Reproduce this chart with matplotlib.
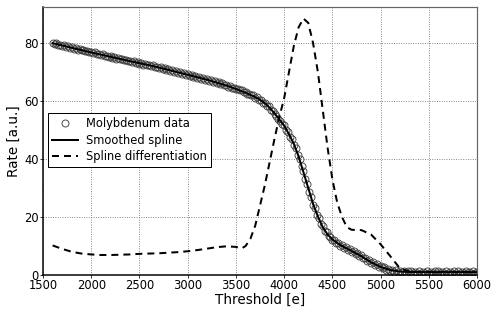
import matplotlib
matplotlib.use("Agg")
import matplotlib.pyplot as plt
import numpy as np

# measured data, one point every 20 e from 1600 to 6000
data_x = np.arange(1600, 6001, 20)
data_rate = [
    80.1, 79.7, 79.9, 79.3, 79.5, 79.0, 79.2, 78.7, 79.0, 78.4,
    78.6, 78.1, 78.3, 77.8, 78.0, 77.5, 77.8, 77.2, 77.4, 76.9,
    77.0, 76.5, 76.8, 76.2, 76.4, 75.9, 76.2, 75.6, 75.7, 75.2,
    75.5, 75.0, 75.2, 74.7, 74.9, 74.5, 74.7, 74.2, 74.3, 73.8,
    74.0, 73.6, 73.8, 73.2, 73.4, 72.9, 73.1, 72.6, 72.8, 72.3,
    72.6, 72.1, 72.3, 71.8, 71.9, 71.4, 71.7, 71.2, 71.3, 70.8,
    71.0, 70.5, 70.7, 70.1, 70.3, 69.8, 70.0, 69.4, 69.6, 69.1,
    69.3, 68.8, 69.0, 68.4, 68.6, 68.1, 68.3, 67.7, 67.9, 67.4,
    67.6, 67.1, 67.2, 66.7, 66.9, 66.3, 66.5, 65.9, 66.1, 65.5,
    65.6, 65.0, 65.2, 64.6, 64.7, 64.1, 64.3, 63.7, 63.8, 63.2,
    63.1, 62.5, 62.6, 62.0, 62.0, 61.2, 61.3, 60.5, 60.3, 59.5,
    59.4, 58.4, 58.2, 57.1, 56.7, 55.6, 55.0, 54.0, 53.2, 52.2,
    51.7, 50.1, 49.5, 47.7, 47.0, 45.0, 43.9, 41.5, 40.2, 37.5,
    35.8, 33.0, 31.4, 28.6, 27.0, 24.2, 23.0, 20.7, 19.7, 17.6,
    16.8, 15.1, 14.7, 13.3, 13.2, 12.0, 12.1, 11.0, 11.2, 10.1,
    10.3, 9.4, 9.6, 8.7, 8.9, 8.0, 8.2, 7.3, 7.5, 6.6,
    6.8, 5.8, 6.0, 5.0, 5.2, 4.1, 4.4, 3.5, 3.7, 2.8,
    3.1, 2.3, 2.7, 1.9, 2.2, 1.4, 1.9, 1.2, 1.7, 1.0,
    1.5, 0.9, 1.4, 0.8, 1.3, 0.7, 1.3, 0.7, 1.2, 0.8,
    1.3, 0.7, 1.2, 0.8, 1.3, 0.7, 1.2, 0.8, 1.3, 0.7,
    1.3, 0.7, 1.2, 0.8, 1.3, 0.7, 1.2, 0.8, 1.3, 0.7,
    1.3, 0.7, 1.2, 0.8, 1.3, 0.7, 1.2, 0.8, 1.3, 0.7,
    1.2,
]

# smoothed spline
spline_x = [1600, 1800, 2000, 2200, 2400, 2600, 2800, 3000, 3200, 3400,
            3500, 3600, 3700, 3750, 3800, 3850, 3900, 3950, 4000, 4050,
            4100, 4150, 4200, 4250, 4300, 4350, 4400, 4450, 4500, 4550,
            4600, 4700, 4800, 4900, 5000, 5100, 5200, 5300, 5400, 6000]
spline_rate = [80.0, 78.4, 76.8, 75.3, 73.8, 72.4, 70.8, 69.1, 67.4, 65.4,
               64.2, 62.9, 61.4, 60.5, 59.3, 57.7, 55.8, 53.7, 51.5, 48.6,
               45.3, 40.9, 35.5, 30.0, 24.5, 20.2, 16.5, 14.0, 12.3, 11.1,
               10.0, 8.3, 6.5, 4.4, 2.8, 1.7, 1.2, 1.05, 1.0, 1.0]

# spline differentiation
diff_x = [1600, 1700, 1800, 1900, 2000, 2100, 2200, 2300, 2400, 2500,
          2600, 2700, 2800, 2900, 3000, 3100, 3200, 3300, 3400, 3500,
          3560, 3600, 3650, 3700, 3750, 3800, 3850, 3900, 3950, 4000,
          4050, 4100, 4150, 4200, 4250, 4300, 4350, 4400, 4450, 4500,
          4550, 4600, 4650, 4700, 4800, 4900, 5000, 5100, 5200, 5300,
          5400, 6000]
diff_rate = [10.2, 9.0, 8.0, 7.4, 7.1, 6.9, 6.9, 7.0, 7.1, 7.3,
             7.4, 7.5, 7.7, 7.9, 8.2, 8.6, 9.1, 9.6, 9.9, 9.7,
             9.2, 10.0, 12.5, 17.0, 24.0, 31.0, 39.0, 47.0, 54.5, 61.0,
             70.0, 79.0, 85.5, 88.5, 87.0, 80.0, 70.0, 57.0, 44.0, 33.0,
             25.0, 20.0, 16.5, 15.6, 15.5, 14.0, 10.6, 6.5, 2.3, 1.2,
             1.0, 1.0]

plt.rcParams['font.family'] = 'DejaVu Sans'
fig = plt.figure(figsize=(498 / 72, 316 / 72), dpi=72)
ax = fig.add_axes([0.0863, 0.1297, 0.8717, 0.8483])

ax.plot(data_x, data_rate, 'o', mfc='none', mec='0.25', ms=7, mew=0.9,
        label='Molybdenum data')
ax.plot(spline_x, spline_rate, '-', color='black', lw=2, label='Smoothed spline')
ax.plot(diff_x, diff_rate, '--', color='black', lw=2, dashes=(3.5, 2.5),
        label='Spline differentiation')

ax.set_xlim(1500, 6000)
ax.set_ylim(0, 92.5)
ax.set_xticks(np.arange(1500, 6001, 500))
ax.set_yticks([0, 20, 40, 60, 80])
ax.grid(True, linestyle=':', color='0.45', lw=0.9)
ax.tick_params(labelsize=11.5, direction='out', length=3, top=False, right=False, pad=1)

for s in ['left', 'bottom']:
    ax.spines[s].set_linewidth(1.5)
    ax.spines[s].set_color('black')
for s in ['top', 'right']:
    ax.spines[s].set_linewidth(1.2)
    ax.spines[s].set_color('0.4')

ax.set_xlabel('Threshold [e]', fontsize=13.5, labelpad=1)
ax.set_ylabel('Rate [a.u.]', fontsize=13.5, labelpad=3)

leg = ax.legend(loc='upper left', bbox_to_anchor=(0.0115, 0.604), borderaxespad=0,
                fontsize=11.5, fancybox=False, framealpha=1, edgecolor='black',
                handlelength=2.3, handletextpad=0.7, borderpad=0.35,
                labelspacing=0.3, numpoints=1)
leg.get_frame().set_linewidth(1.0)

fig.savefig('out.png', dpi=72, facecolor='white')
